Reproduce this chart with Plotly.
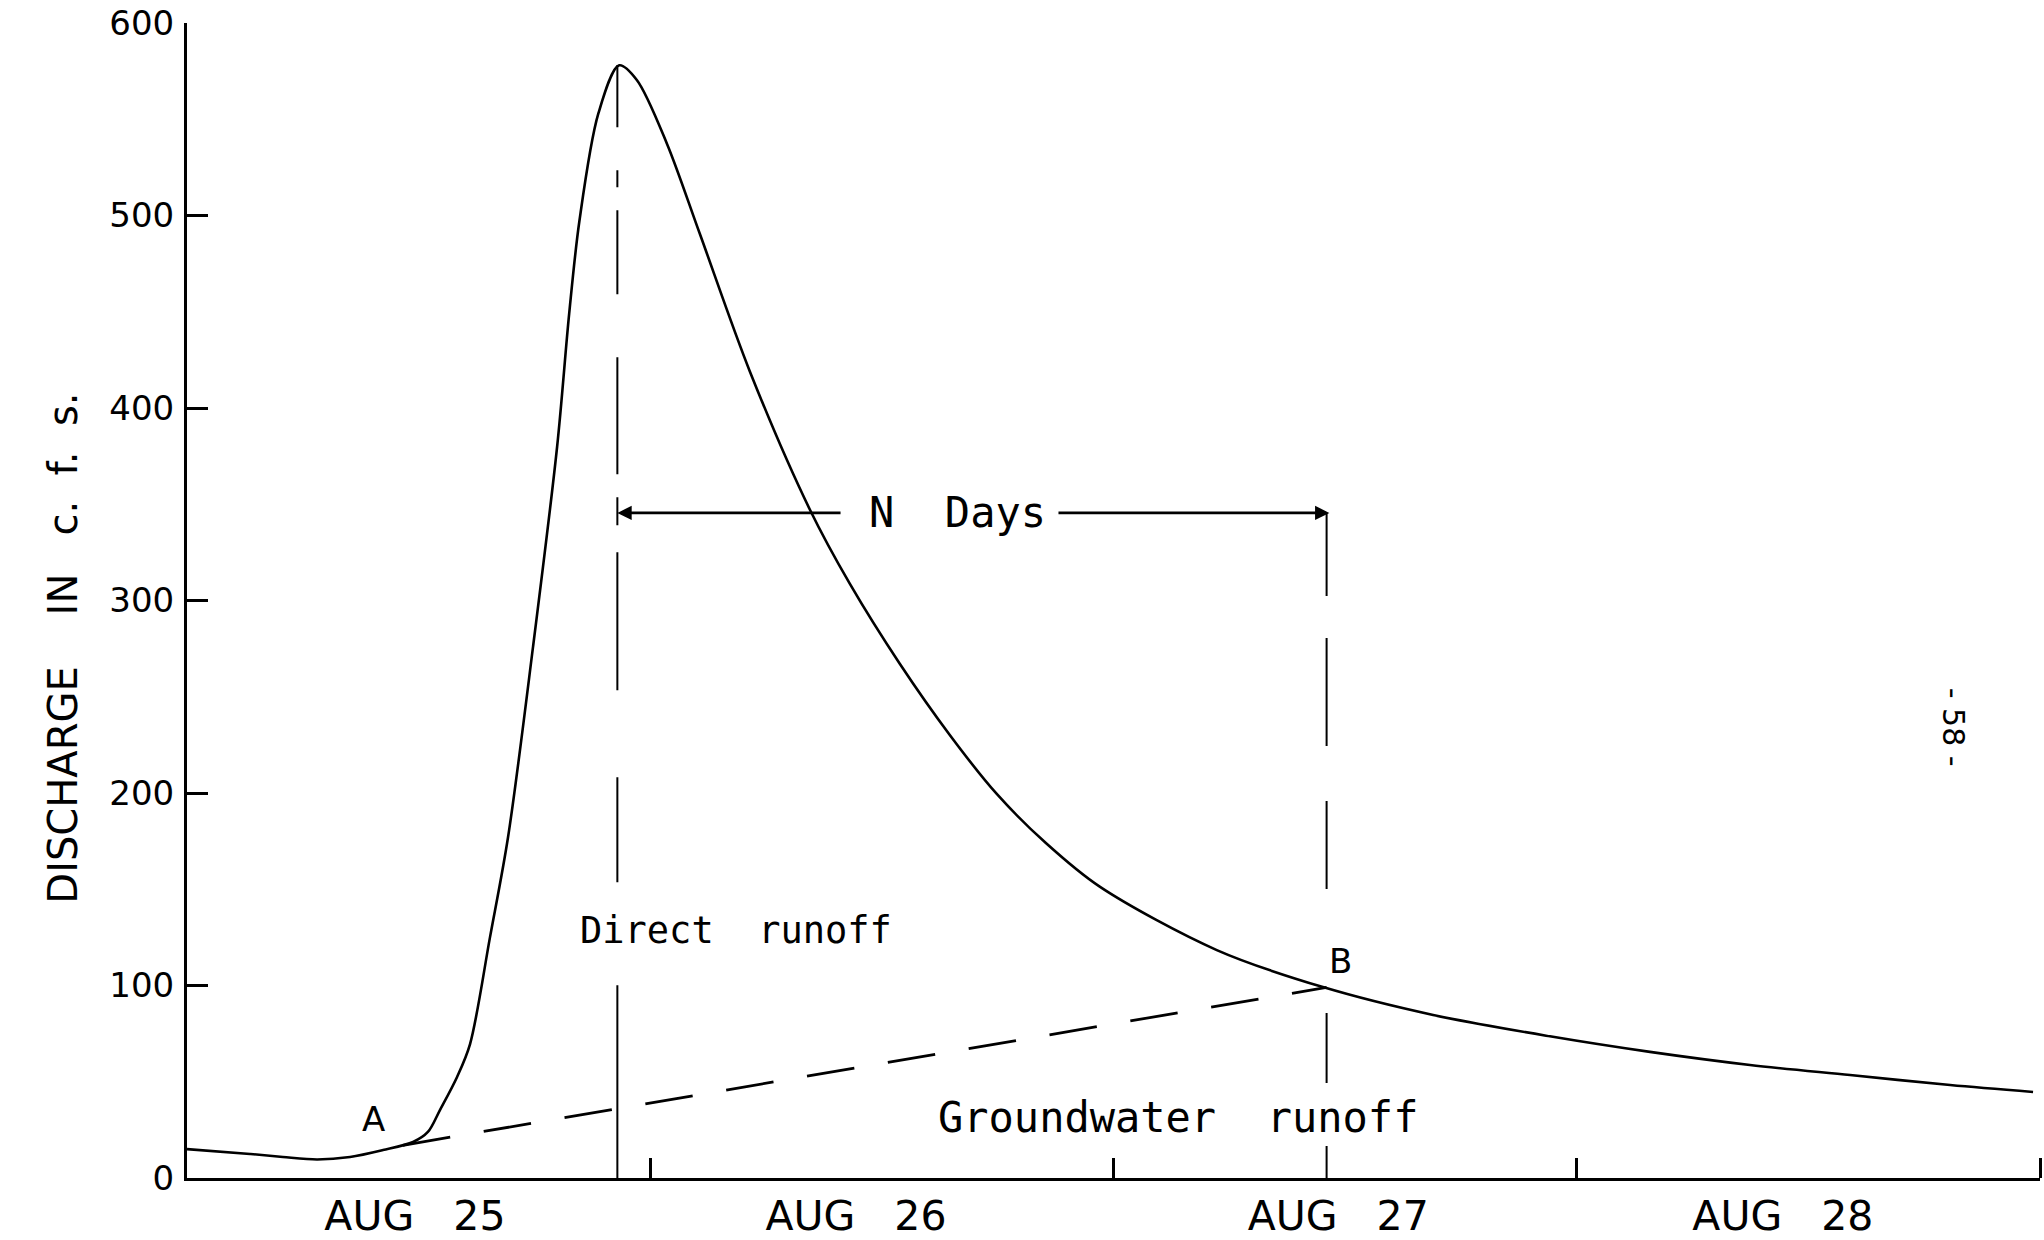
import plotly.graph_objects as go

# ---------------- data (time in days from start of AUG 25, discharge in c.f.s.) ----------------
time_days = [0.0, 0.136, 0.207, 0.281, 0.352, 0.423, 0.488, 0.520, 0.546, 0.583, 0.611, 0.654,
             0.693, 0.747, 0.799, 0.825, 0.847, 0.888, 0.933,
             0.971, 1.036, 1.107, 1.215, 1.345, 1.431, 1.539, 1.647, 1.748, 1.854, 1.971,
             2.223, 2.452, 2.690, 2.942, 3.158, 3.374, 3.590, 3.806, 3.985]
discharge = [15.0, 12.5, 10.9, 9.6, 10.9, 14.5, 18.7, 23.9, 35.3, 52.5, 69.6, 125.0,
             177.0, 276.0, 380.0, 449.0, 497.0, 553.0, 578.0,
             570.4, 537.3, 490.5, 419.0, 347.0, 308.6, 267.0, 230.0, 199.5, 174.0, 151.2,
             118.4, 99.2, 84.7, 73.6, 65.5, 58.7, 53.5, 48.3, 44.7]

point_a = (0.466, 17.0)        # start of direct runoff
point_b = (2.460, 99.0)        # end of direct runoff
peak_time = 0.929
peak_q = 578.0
n_days_level = 345.5

y_ticks = [0, 100, 200, 300, 400, 500, 600]
day_boundaries = [1, 2, 3, 4]
x_label_pos = [0.492, 1.444, 2.485, 3.445]
x_tick_labels = ["AUG 25", "AUG 26", "AUG 27", "AUG 28"]

# ---------------- figure ----------------
fig = go.Figure()

# hydrograph
fig.add_trace(go.Scatter(x=time_days, y=discharge, mode="lines",
                         line=dict(color="black", width=2.6, shape="spline", smoothing=0.9),
                         hoverinfo="skip"))

# groundwater separation line A-B
fig.add_trace(go.Scatter(x=[point_a[0], point_b[0]], y=[point_a[1], point_b[1]], mode="lines",
                         line=dict(color="black", width=2.8, dash="48px,34px"), hoverinfo="skip"))

# vertical dashed line from the peak
fig.add_trace(go.Scatter(x=[peak_time, peak_time], y=[peak_q, 0], mode="lines",
                         line=dict(color="black", width=2,
                                   dash="62px,43px,17px,23px,84px,63px,117px,23px,28px,27px,138px,87px,105px,103px,220px"),
                         hoverinfo="skip"))

# vertical dashed line at B
fig.add_trace(go.Scatter(x=[point_b[0], point_b[0]], y=[n_days_level, 0], mode="lines",
                         line=dict(color="black", width=2,
                                   dash="83px,42px,108px,55px,88px,124px,70px,63px,40px"),
                         hoverinfo="skip"))

mono = "DejaVu Sans Mono"
sans = "DejaVu Sans"

# N Days arrows
fig.add_annotation(x=peak_time, y=n_days_level, ax=1.414, ay=n_days_level,
                   xref="x", yref="y", axref="x", ayref="y", text="",
                   showarrow=True, arrowhead=2, arrowsize=1.1, arrowwidth=2.6, arrowcolor="black", standoff=0)
fig.add_annotation(x=point_b[0] + 0.006, y=n_days_level, ax=1.878, ay=n_days_level,
                   xref="x", yref="y", axref="x", ayref="y", text="",
                   showarrow=True, arrowhead=2, arrowsize=1.1, arrowwidth=2.6, arrowcolor="black", standoff=0)
fig.add_annotation(x=1.664, y=n_days_level, xref="x", yref="y", text="N\u00a0\u00a0Days",
                   showarrow=False, font=dict(family=mono, size=42, color="black"),
                   xanchor="center", yanchor="middle")

# region labels
fig.add_annotation(x=1.185, y=128.5, xref="x", yref="y", text="Direct\u00a0\u00a0runoff",
                   showarrow=False, font=dict(family=mono, size=37, color="black"))
fig.add_annotation(x=2.140, y=31.4, xref="x", yref="y", text="Groundwater\u00a0\u00a0runoff",
                   showarrow=False, font=dict(family=mono, size=42, color="black"))
fig.add_annotation(x=0.402, y=30.4, xref="x", yref="y", text="A",
                   showarrow=False, font=dict(family=sans, size=34, color="black"))
fig.add_annotation(x=2.489, y=112.7, xref="x", yref="y", text="B",
                   showarrow=False, font=dict(family=sans, size=34, color="black"))

# y axis title
fig.add_annotation(x=-0.0669, y=275, xref="paper", yref="y",
                   text="DISCHARGE\u00a0\u00a0\u00a0\u00a0IN\u00a0\u00a0\u00a0c.\u00a0\u00a0f.\u00a0\u00a0s.",
                   textangle=-90, showarrow=False, font=dict(family=sans, size=40, color="black"),
                   xanchor="center", yanchor="middle")

# page number
fig.add_annotation(x=3.814, y=234, xref="x", yref="y", text="-\u00a058\u00a0-",
                   textangle=90, showarrow=False, font=dict(family=sans, size=30, color="black"))

fig.update_xaxes(range=[0, 4], showline=True, linecolor="black", linewidth=3,
                 showgrid=False, zeroline=False, automargin=False,
                 tickmode="array", tickvals=x_label_pos,
                 ticktext=[t.replace(" ", "\u00a0\u00a0\u00a0") for t in x_tick_labels],
                 ticks="", ticklabelstandoff=0,
                 tickfont=dict(family=sans, size=41, color="black"),
                 minor=dict(tickmode="array", tickvals=day_boundaries, ticks="inside",
                            ticklen=20, tickwidth=2.5, tickcolor="black", showgrid=False))
fig.update_yaxes(range=[0, 600], showline=True, linecolor="black", linewidth=3,
                 showgrid=False, zeroline=False, automargin=False,
                 tickmode="array", tickvals=y_ticks, ticktext=[str(v) for v in y_ticks],
                 ticks="inside", ticklen=21, tickwidth=2.5, tickcolor="black",
                 ticklabelstandoff=3,
                 tickfont=dict(family=sans, size=34, color="black"))

fig.update_layout(width=2044, height=1240, showlegend=False,
                  margin=dict(l=187, r=4, t=23, b=62, autoexpand=False),
                  plot_bgcolor="white", paper_bgcolor="white")

fig.write_html("out.html", config={"displayModeBar": False},
               post_script="document.body.style.margin='0';document.body.style.overflow='hidden';")
